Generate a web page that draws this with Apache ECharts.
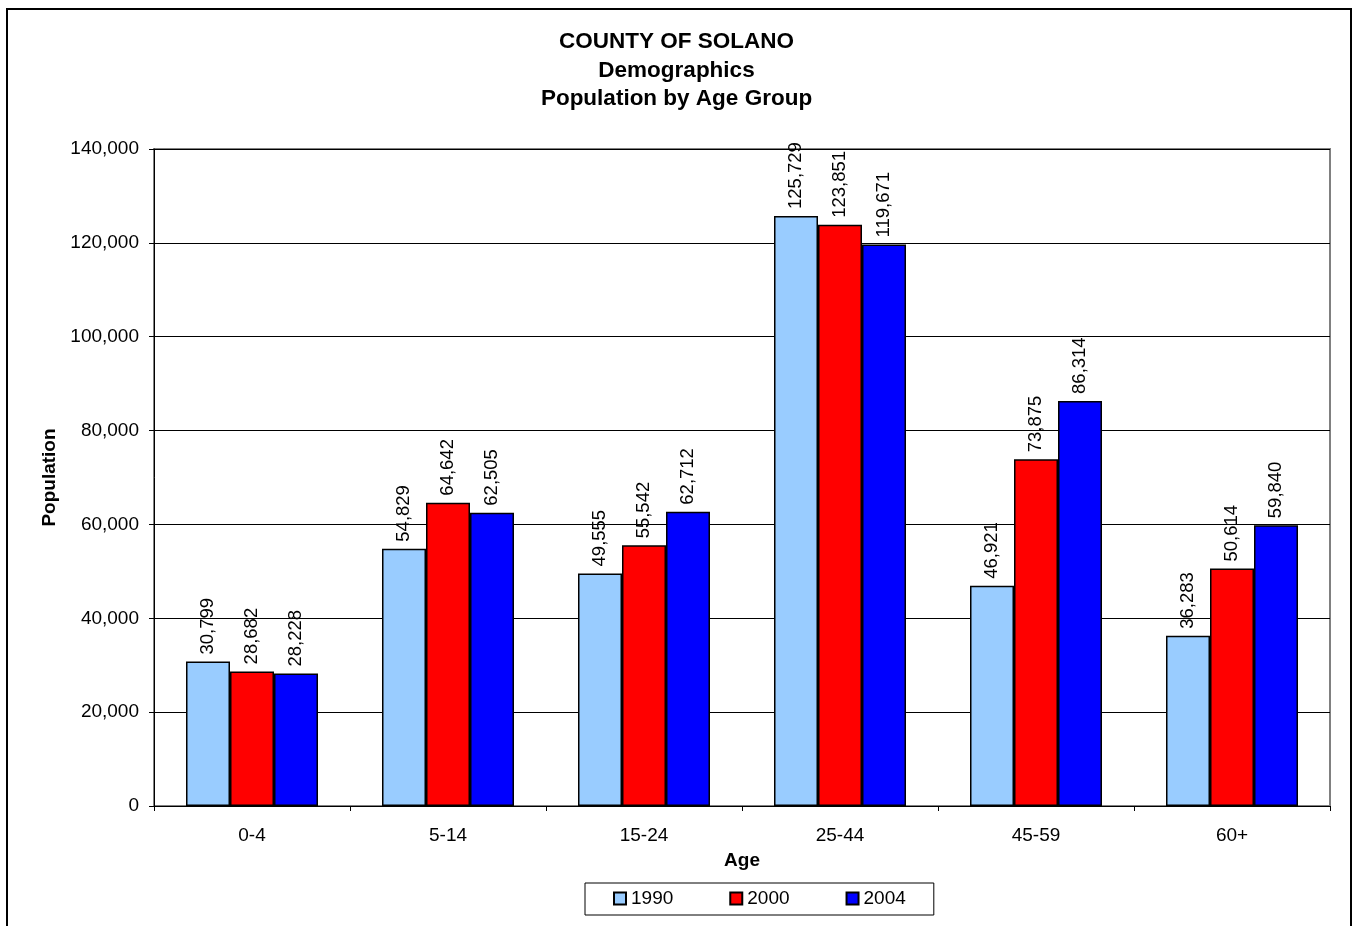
<!DOCTYPE html>
<html>
<head>
<meta charset="utf-8">
<script src="https://cdn.jsdelivr.net/npm/echarts@6/dist/echarts.min.js"></script>
<style>
html,body{margin:0;padding:0;background:#fff;}
#chart{width:1353px;height:926px;}
</style>
</head>
<body>
<div id="chart"></div>
<script>
const categories = ['0-4', '5-14', '15-24', '25-44', '45-59', '60+'];
const seriesNames = ['1990', '2000', '2004'];
const values1990 = [30799, 54829, 49555, 125729, 46921, 36283];
const values2000 = [28682, 64642, 55542, 123851, 73875, 50614];
const values2004 = [28228, 62505, 62712, 119671, 86314, 59840];
const yTicks = [0, 20000, 40000, 60000, 80000, 100000, 120000, 140000];
const titleLines = ['COUNTY OF SOLANO', 'Demographics', 'Population by Age Group'];

const FONT = '"Liberation Sans", Arial, sans-serif';
const colors = ['#99CCFF', '#FF0000', '#0000FF'];
const fmt = v => Number(v).toLocaleString('en-US');

const chart = echarts.init(document.getElementById('chart'), null, {renderer: 'canvas'});

function mkSeries(name, data, color) {
  return {
    name: name,
    type: 'bar',
    data: data,
    barWidth: 44,
    barGap: '0%',
    itemStyle: {color: color, borderColor: '#000', borderWidth: 1.5},
    label: {
      show: true,
      position: 'top',
      rotate: 90,
      align: 'left',
      verticalAlign: 'middle',
      distance: 7,
      fontFamily: FONT,
      fontSize: 18.5,
      color: '#000',
      formatter: p => fmt(p.value)
    },
    emphasis: {disabled: true},
    animation: false
  };
}

chart.setOption({
  animation: false,
  backgroundColor: '#fff',
  textStyle: {fontFamily: FONT},
  title: {
    text: titleLines.join('\n'),
    left: 'center',
    top: 28,
    padding: 0,
    textStyle: {fontFamily: FONT, fontSize: 22.5, fontWeight: 'bold', lineHeight: 28.5, color: '#000'}
  },
  graphic: [{
    type: 'rect',
    shape: {x: 7, y: 9, width: 1344, height: 940},
    style: {fill: 'none', stroke: '#000', lineWidth: 2},
    silent: true
  }],
  legend: {
    data: seriesNames,
    left: 585,
    top: 883,
    orient: 'horizontal',
    padding: [6, 28, 7, 28],
    itemWidth: 12,
    itemHeight: 12,
    itemGap: 56,
    borderColor: '#000',
    borderWidth: 1,
    icon: 'rect',
    textStyle: {fontFamily: FONT, fontSize: 19, color: '#000', padding: [0, 0, 0, 0]}
  },
  grid: {
    left: 154, top: 149, right: 23, bottom: 120,
    show: true, borderColor: '#808080', borderWidth: 2,
    containLabel: false
  },
  xAxis: {
    type: 'category',
    data: categories,
    name: 'Age',
    nameLocation: 'middle',
    nameGap: 45,
    nameTextStyle: {fontFamily: FONT, fontSize: 19, fontWeight: 'bold', color: '#000'},
    axisLine: {lineStyle: {color: '#000', width: 1}},
    axisTick: {show: true, length: 5, lineStyle: {color: '#000'}},
    axisLabel: {fontFamily: FONT, fontSize: 19, color: '#000', margin: 20},
    splitLine: {show: false}
  },
  yAxis: {
    type: 'value',
    min: yTicks[0],
    max: yTicks[yTicks.length - 1],
    interval: yTicks[1] - yTicks[0],
    name: 'Population',
    nameLocation: 'middle',
    nameGap: 95,
    nameTextStyle: {fontFamily: FONT, fontSize: 19, fontWeight: 'bold', color: '#000'},
    axisLine: {show: true, lineStyle: {color: '#000', width: 1}},
    axisTick: {show: true, length: 5, lineStyle: {color: '#000'}},
    axisLabel: {fontFamily: FONT, fontSize: 19, color: '#000', margin: 15, formatter: v => fmt(v)},
    splitLine: {show: true, lineStyle: {color: '#000', width: 1}}
  },
  series: [
    mkSeries(seriesNames[0], values1990, colors[0]),
    mkSeries(seriesNames[1], values2000, colors[1]),
    mkSeries(seriesNames[2], values2004, colors[2])
  ]
});
</script>
</body>
</html>
